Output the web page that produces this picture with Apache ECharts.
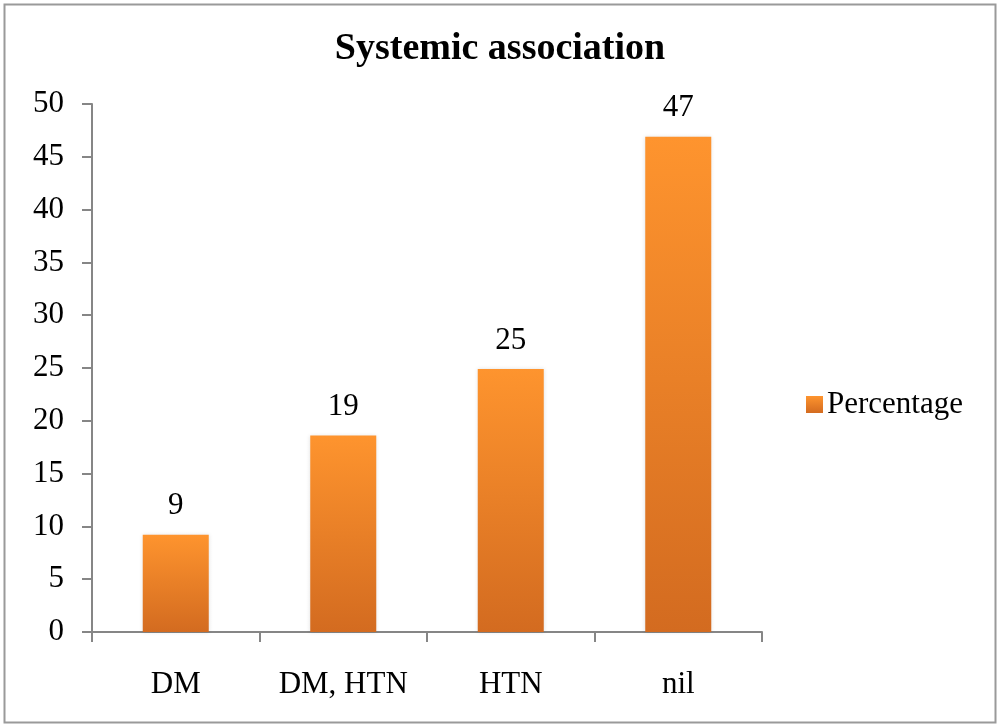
<!DOCTYPE html>
<html><head><meta charset="utf-8">
<script src="https://cdn.jsdelivr.net/npm/echarts@6/dist/echarts.min.js"></script>
<style>html,body{margin:0;padding:0;background:#fff}#c{width:1000px;height:727px}</style>
</head><body><div id="c"></div>
<script>
const titleText = 'Systemic association';
const categories = ['DM', 'DM, HTN', 'HTN', 'nil'];
const seriesName = 'Percentage';
const percentages = [9.2, 18.6, 24.9, 46.9];
const yTicks = [0, 5, 10, 15, 20, 25, 30, 35, 40, 45, 50];

const FONT = '"Liberation Serif", "Times New Roman", serif';
const chart = echarts.init(document.getElementById('c'), null, {renderer: 'canvas'});
chart.setOption({
  animation: false,
  backgroundColor: '#fff',
  graphic: [{
    type: 'rect', silent: true, z: -1,
    shape: {x: 4.5, y: 4.5, width: 991, height: 718},
    style: {fill: 'none', stroke: '#9a9a9a', lineWidth: 2}
  }],
  title: {
    text: titleText, left: 'center', top: 25,
    textStyle: {fontFamily: FONT, fontWeight: 'bold', fontSize: 38, color: '#000'}
  },
  legend: {
    data: [seriesName], left: 801, top: 384, orient: 'vertical', icon: 'rect',
    itemWidth: 17, itemHeight: 17, itemGap: 8,
    textStyle: {fontFamily: FONT, fontSize: 31, color: '#000', padding: [0, 0, 0, -1]}
  },
  grid: {left: 92, right: 238, top: 104, bottom: 95, containLabel: false},
  xAxis: {
    type: 'category', data: categories,
    axisLine: {lineStyle: {color: '#868686', width: 2}},
    axisTick: {show: true, interval: 0, length: 10, lineStyle: {color: '#868686', width: 2}},
    axisLabel: {interval: 0, hideOverlap: false, fontFamily: FONT, fontSize: 31, color: '#000', margin: 37}
  },
  yAxis: {
    type: 'value', min: yTicks[0], max: yTicks[yTicks.length - 1], interval: yTicks[1] - yTicks[0],
    splitLine: {show: false},
    axisLine: {show: true, lineStyle: {color: '#868686', width: 2}},
    axisTick: {show: true, length: 10, lineStyle: {color: '#868686', width: 2}},
    axisLabel: {fontFamily: FONT, fontSize: 31, color: '#000', margin: 28}
  },
  series: [{
    name: seriesName, type: 'bar', data: percentages, barWidth: 66,
    itemStyle: {
      color: new echarts.graphic.LinearGradient(0, 0, 0, 1, [
        {offset: 0, color: '#FE942E'}, {offset: 1, color: '#D36B20'}
      ]),
      shadowBlur: 4, shadowColor: 'rgba(0,0,0,0.12)'
    },
    label: {
      show: true, position: 'top', distance: 13,
      fontFamily: FONT, fontSize: 31, color: '#000',
      formatter: p => Math.round(p.value)
    }
  }]
});
</script></body></html>
